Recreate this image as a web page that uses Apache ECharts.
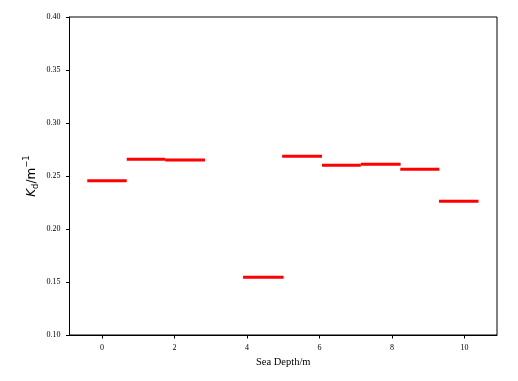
<!DOCTYPE html>
<html>
<head>
<meta charset="utf-8">
<script src="https://cdn.jsdelivr.net/npm/echarts@6/dist/echarts.min.js"></script>
<style>html,body{margin:0;padding:0;background:#fff}#c{width:518px;height:381px}</style>
</head>
<body>
<div id="c"></div>
<script>
// Segment start depth, end depth and Kd value
const segStart = [-0.41, 0.68, 1.74, 3.89, 4.97, 6.07, 7.14, 8.23, 9.30];
const segEnd   = [0.68, 1.74, 2.84, 5.01, 6.07, 7.14, 8.24, 9.31, 10.39];
const kdValues = [0.2456, 0.2657, 0.2651, 0.1544, 0.2686, 0.2601, 0.2610, 0.2563, 0.2261];
const xTicks = [0, 2, 4, 6, 8, 10];
const yTicks = [0.10, 0.15, 0.20, 0.25, 0.30, 0.35, 0.40];

const data = segStart.map((s, i) => [s, segEnd[i], kdValues[i]]);
const serif = 'Liberation Serif';

const chart = echarts.init(document.getElementById('c'));
chart.setOption({
  animation: false,
  backgroundColor: '#fff',
  grid: { left: 69.5, right: 21, top: 17, bottom: 46, show: true, borderColor: '#000', borderWidth: 1 },
  xAxis: {
    type: 'value', min: -0.9, max: 10.9,
    name: 'Sea Depth/m', nameLocation: 'middle', nameGap: 21.5, nameMoveOverlap: false,
    nameTextStyle: { fontFamily: serif, fontSize: 10.5, color: '#000' },
    axisLine: { show: true, onZero: false, lineStyle: { color: '#000', width: 1 } },
    axisTick: { show: true, customValues: xTicks, length: 3.5, inside: false, lineStyle: { color: '#000' } },
    axisLabel: { customValues: xTicks, margin: 8.5, fontFamily: serif, fontSize: 8, color: '#000' },
    splitLine: { show: false }
  },
  yAxis: {
    type: 'value', min: 0.1, max: 0.4, interval: 0.05,
    name: '{k|K}{sub|d}{n|/m}{sup|−1}', nameLocation: 'middle', nameGap: 29, nameRotate: 90, nameMoveOverlap: false,
    nameTextStyle: {
      color: '#000', fontFamily: 'DejaVu Sans',
      rich: {
        k: { fontSize: 12, fontStyle: 'italic', fontFamily: 'DejaVu Sans', lineHeight: 18, verticalAlign: 'middle' },
        sub: { fontSize: 8.5, fontFamily: 'DejaVu Sans', lineHeight: 18, verticalAlign: 'bottom' },
        n: { fontSize: 12, fontFamily: 'DejaVu Sans', lineHeight: 18, verticalAlign: 'middle' },
        sup: { fontSize: 8.5, fontFamily: 'DejaVu Sans', lineHeight: 18, verticalAlign: 'top' }
      }
    },
    axisLine: { show: true, onZero: false, lineStyle: { color: '#000', width: 1 } },
    axisTick: { show: true, length: 3.5, lineStyle: { color: '#000' } },
    axisLabel: { margin: 9, fontFamily: serif, fontSize: 8, color: '#000', formatter: v => v.toFixed(2) },
    splitLine: { show: false }
  },
  series: [{
    type: 'custom',
    data: data,
    encode: { x: [0, 1], y: 2 },
    renderItem: function (params, api) {
      const p0 = api.coord([api.value(0), api.value(2)]);
      const p1 = api.coord([api.value(1), api.value(2)]);
      return {
        type: 'line',
        shape: { x1: p0[0], y1: p0[1], x2: p1[0], y2: p1[1] },
        style: { stroke: '#ff0000', lineWidth: 3 }
      };
    }
  }]
});
</script>
</body>
</html>
